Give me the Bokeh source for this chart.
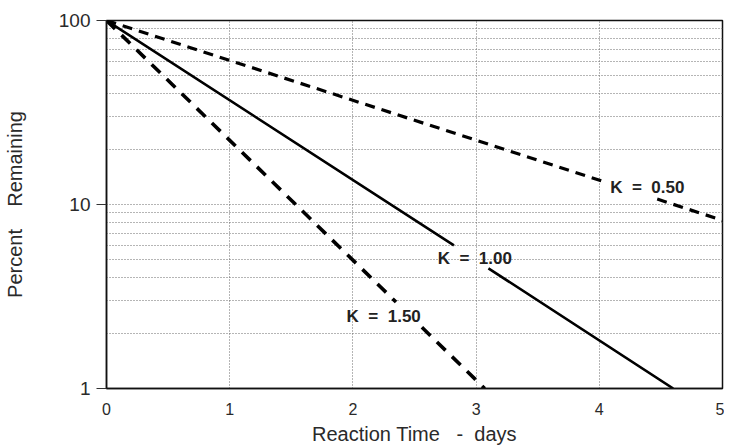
import numpy as np
from bokeh.plotting import figure
from bokeh.models import FixedTicker, Range1d, CustomJSTickFormatter
from bokeh.core.properties import value
from bokeh.embed import file_html
from bokeh.resources import INLINE

# Values (NaN marks the gap where the label sits)
t_k050 = [0.0, 4.04, np.nan, 4.47, 5.0]
p_k050 = [100.0, 13.3, np.nan, 10.7, 8.2]

t_k100 = [0.0, 2.82, np.nan, 3.10, 4.60]
p_k100 = [100.0, 6.0, np.nan, 4.5, 1.0]

t_k150 = [0.0, 2.35, np.nan, 2.56, 3.07]
p_k150 = [100.0, 2.95, np.nan, 2.15, 1.0]

NB = "\u00a0"
label_text = [f"K{NB*2}={NB*2}0.50", f"K{NB*2}={NB*2}1.00", f"K{NB*2}={NB*2}1.50"]
label_x = [4.39, 2.99, 2.25]
label_y = [12.3, 5.07, 2.46]

x_ticks = [0, 1, 2, 3, 4, 5]
y_ticks = [1, 10, 100]
y_minor = [2, 3, 4, 5, 6, 7, 8, 9, 20, 30, 40, 50, 60, 70, 80, 90]

FONT = "Liberation Sans"

p = figure(width=724, height=447, y_axis_type="log",
           x_range=Range1d(0, 5), y_range=Range1d(1, 100),
           output_backend="svg", toolbar_location=None,
           min_border_left=104, min_border_right=2,
           min_border_top=20, min_border_bottom=58)

p.background_fill_color = "white"
p.border_fill_color = "white"
p.outline_line_color = "#111111"
p.outline_line_width = 1.5

# axes
p.xaxis.ticker = FixedTicker(ticks=x_ticks)
p.yaxis.ticker = FixedTicker(ticks=y_ticks, minor_ticks=y_minor)
for ax in (p.xaxis[0], p.yaxis[0]):
    ax.axis_line_color = "#111111"
    ax.axis_line_width = 1.5
    ax.minor_tick_line_color = None
    ax.major_label_text_font = FONT
    ax.major_label_text_color = "#2a2a2a"
    ax.axis_label_text_font = FONT
    ax.axis_label_text_font_style = "normal"
    ax.axis_label_text_color = "#2a2a2a"

p.xaxis.major_tick_line_color = None
p.xaxis.major_label_text_font_size = "16px"
p.xaxis.major_label_standoff = 8
p.xaxis.axis_label = f"Reaction Time{NB*3}-{NB*2}days"
p.xaxis.axis_label_text_font_size = "20px"
p.xaxis.axis_label_standoff = 5

p.yaxis.major_tick_out = 10
p.yaxis.major_tick_in = 0
p.yaxis.major_tick_line_color = "#333333"
p.yaxis.major_label_text_font_size = "19px"
p.yaxis.major_label_standoff = 6
p.yaxis.axis_label = f"Percent{NB*4}Remaining"
p.yaxis.axis_label_text_font_size = "20px"
p.yaxis.axis_label_standoff = 30
p.yaxis.formatter = CustomJSTickFormatter(code="return String(tick);")

# grid
for g in (p.xgrid[0], p.ygrid[0]):
    g.grid_line_color = "#6a6a6a"
    g.grid_line_dash = "1 2"
    g.grid_line_width = 1
p.ygrid.minor_grid_line_color = "#6a6a6a"
p.ygrid.minor_grid_line_dash = "1 2"
p.ygrid.minor_grid_line_width = 1

# curves
p.line(t_k050, p_k050, line_color="black", line_width=3.2, line_dash="10 7")
p.line(t_k100, p_k100, line_color="black", line_width=2.6)
p.line(t_k150, p_k150, line_color="black", line_width=3.6, line_dash="12 9")

p.text(x=label_x, y=label_y, text=label_text,
       text_font=value(FONT), text_font_size="17px", text_font_style="bold",
       text_color="#222222", text_align="center", text_baseline="middle")

open("out.html", "w").write(file_html(p, INLINE))
